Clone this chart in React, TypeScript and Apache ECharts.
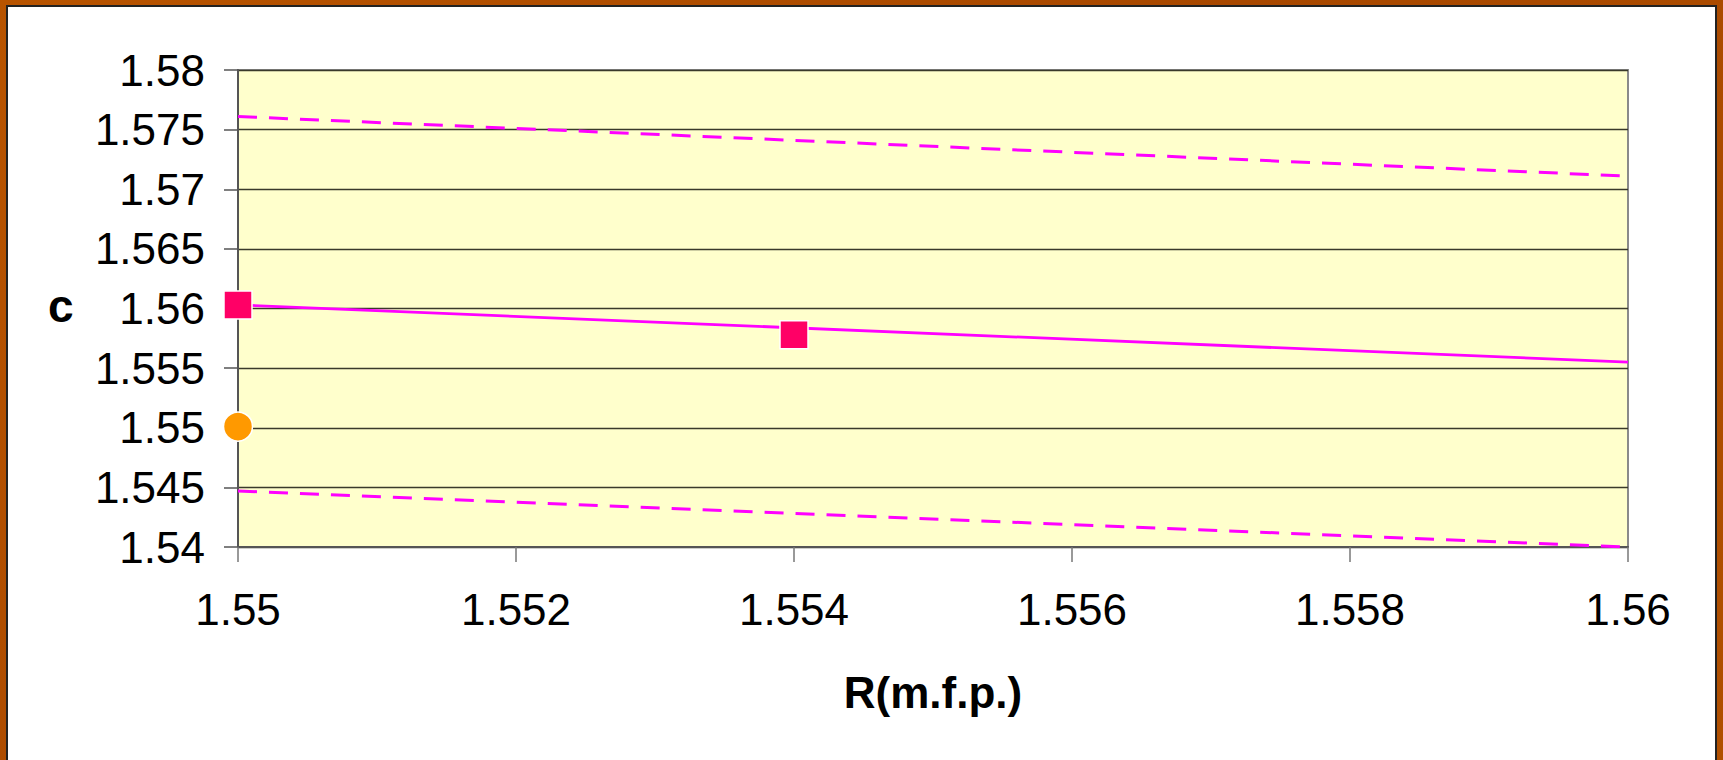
import React, { useEffect, useRef } from "react";
import * as echarts from "echarts";

// Axis ranges and ticks
const xMin = 1.55;
const xMax = 1.56;
const xInterval = 0.002;
const yMin = 1.54;
const yMax = 1.58;
const yInterval = 0.005;

// Axis titles
const xTitle = "R(m.f.p.)";
const yTitle = "c";

// Series values
const upperBound: [number, number][] = [
  [1.55, 1.5761],
  [1.56, 1.5711],
];
const lowerBound: [number, number][] = [
  [1.55, 1.5447],
  [1.56, 1.54],
];
const fitLine: [number, number][] = [
  [1.55, 1.5603],
  [1.56, 1.5555],
];
const squarePoints: [number, number][] = [
  [1.55, 1.5603],
  [1.554, 1.5578],
];
const circlePoints: [number, number][] = [[1.55, 1.5501]];

const FONT = "Arial, 'Liberation Sans', sans-serif";

const fmt = (v: number) => String(+Number(v).toFixed(3));

export default function App() {
  const ref = useRef<HTMLDivElement>(null);

  useEffect(() => {
    document.body.style.margin = "0";
    if (!ref.current) return;
    const chart = echarts.init(ref.current, undefined, { renderer: "svg" });
    chart.setOption({
      animation: false,
      backgroundColor: "transparent",
      grid: {
        left: 238,
        top: 70,
        right: 95,
        bottom: 213,
        show: true,
        backgroundColor: "#FFFFCC",
        borderColor: "#8a8a8a",
        borderWidth: 2,
      },
      xAxis: {
        type: "value",
        min: xMin,
        max: xMax,
        interval: xInterval,
        axisLine: { show: true, lineStyle: { color: "#555", width: 2 } },
        axisTick: { show: true, length: 15, lineStyle: { color: "#777", width: 1.5 } },
        splitLine: { show: false },
        axisLabel: {
          margin: 40,
          color: "#000",
          fontSize: 44,
          fontFamily: FONT,
          formatter: fmt,
        },
      },
      yAxis: {
        type: "value",
        min: yMin,
        max: yMax,
        interval: yInterval,
        axisLine: { show: true, lineStyle: { color: "#555", width: 2 } },
        axisTick: { show: true, length: 14, lineStyle: { color: "#555", width: 1.5 } },
        splitLine: { show: true, lineStyle: { color: "#3a3a2a", width: 1.3 } },
        axisLabel: {
          margin: 33,
          color: "#000",
          fontSize: 44,
          fontFamily: FONT,
          formatter: fmt,
        },
      },
      graphic: [
        {
          type: "text",
          left: 48,
          top: 283,
          style: {
            text: yTitle,
            fontSize: 46,
            fontWeight: "bold",
            fontFamily: FONT,
            fill: "#000",
          },
        },
        {
          type: "text",
          x: 933,
          y: 692,
          style: {
            text: xTitle,
            fontSize: 44,
            fontWeight: "bold",
            fontFamily: FONT,
            fill: "#000",
            align: "center",
            verticalAlign: "middle",
          },
        },
      ],
      series: [
        {
          type: "line",
          data: upperBound,
          symbol: "none",
          lineStyle: { color: "#FF00FF", width: 3, type: [19, 12] },
        },
        {
          type: "line",
          data: lowerBound,
          symbol: "none",
          lineStyle: { color: "#FF00FF", width: 3, type: [19, 12] },
        },
        {
          type: "line",
          data: fitLine,
          symbol: "none",
          lineStyle: { color: "#FF00FF", width: 2.8 },
        },
        {
          type: "scatter",
          data: squarePoints,
          symbol: "rect",
          symbolSize: 28,
          clip: false,
          itemStyle: { color: "#FF0066", borderColor: "#fff", borderWidth: 1.5, opacity: 1 },
          z: 5,
        },
        {
          type: "scatter",
          data: circlePoints,
          symbol: "circle",
          symbolSize: 29,
          clip: false,
          itemStyle: { color: "#FF9900", borderColor: "#fff", borderWidth: 1.5, opacity: 1 },
          z: 5,
        },
      ],
    });
    return () => chart.dispose();
  }, []);

  return (
    <div
      style={{
        position: "relative",
        width: 1723,
        height: 760,
        background: "linear-gradient(135deg, #B85400 0%, #A84800 50%, #B05000 100%)",
        overflow: "hidden",
      }}
    >
      <div
        style={{
          position: "absolute",
          left: 6,
          top: 5,
          width: 1711,
          height: 760,
          background: "#fff",
          border: "2px solid #222",
          boxSizing: "border-box",
        }}
      />
      <div
        ref={ref}
        style={{ position: "absolute", left: 0, top: 0, width: 1723, height: 760 }}
      />
    </div>
  );
}
